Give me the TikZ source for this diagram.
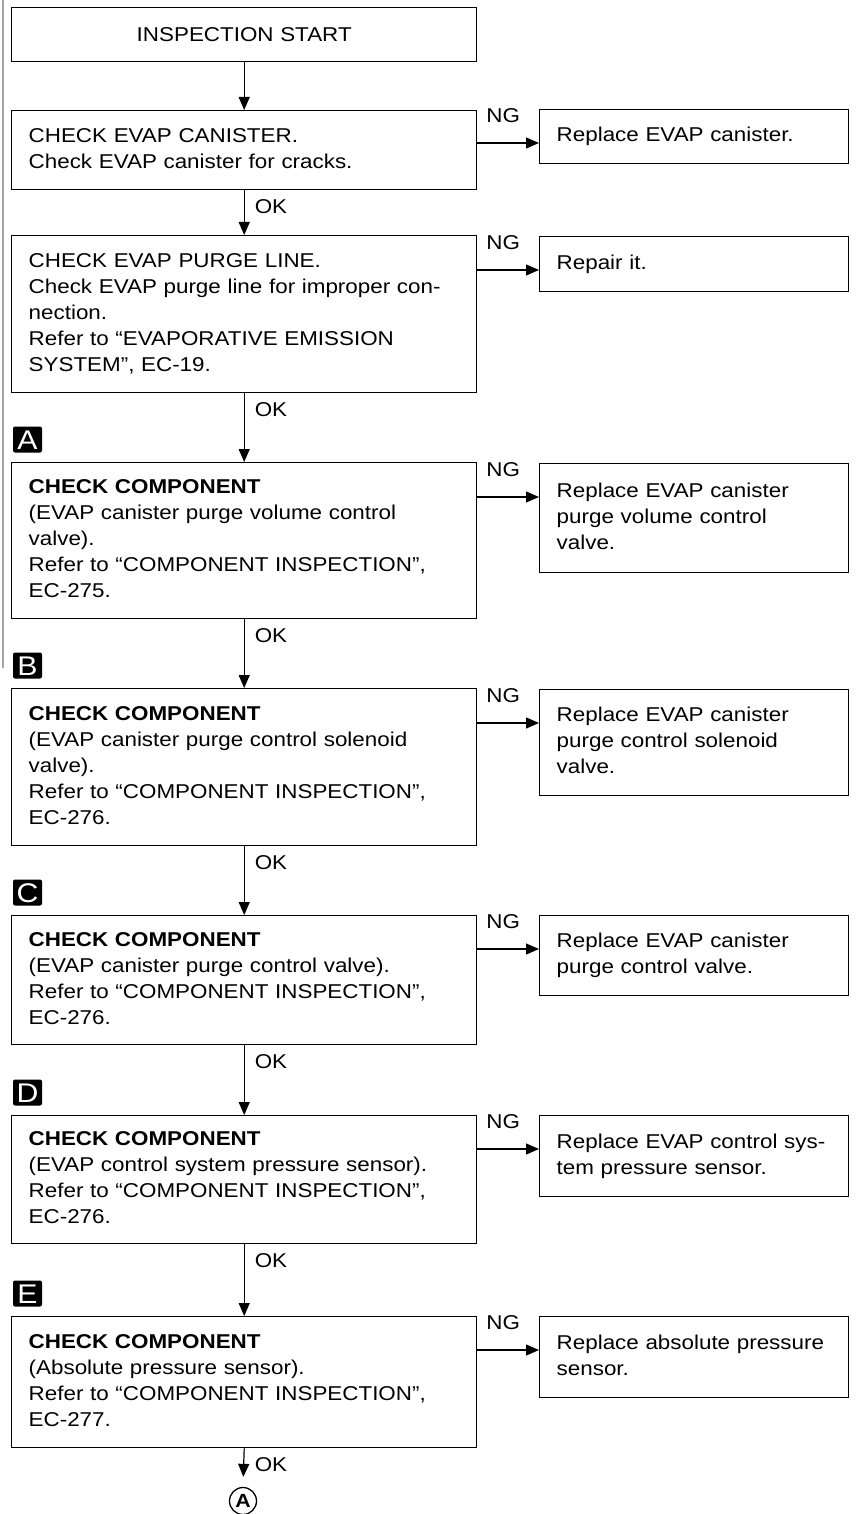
\documentclass[tikz,border=0pt]{standalone}
\usepackage{fontspec}
\setmainfont{Liberation Sans}[FakeStretch=1.12]
\usetikzlibrary{arrows.meta}
\newcommand{\tb}[1]{\begin{tabular}{@{}l@{}}#1\end{tabular}}
\begin{document}
\begin{tikzpicture}[x=1pt,y=-1pt,
  box/.style={draw, line width=1.4pt, anchor=north west, inner xsep=17pt, inner ysep=0pt,
    align=left, font=\fontsize{20}{26}\selectfont},
  lbox/.style={box, text width=431pt, minimum width=465pt},
  rbox/.style={box, text width=275pt, minimum width=309pt},
  arr/.style={line width=1.2pt, -{Triangle[length=13pt,width=11pt]}},
  ng/.style={anchor=south, yshift=20pt, inner sep=0pt, pos=0.42, font=\fontsize{20}{26}\selectfont},
  ok/.style={anchor=north west, xshift=10pt, yshift=-9pt, inner sep=0pt, pos=0, font=\fontsize{20}{26}\selectfont},
  tag/.style={fill=black, text=white, minimum width=29pt, minimum height=26pt, inner sep=0pt,
    rounded corners=2pt, font=\fontsize{27}{27}\selectfont, text height=19.5pt, text depth=0pt},
  circ/.style={circle, draw, line width=1.3pt, minimum size=27pt, inner sep=0pt,
    font=\bfseries\fontsize{19}{19}\selectfont}
]
\useasboundingbox (0,0) rectangle (855,1514);
\draw[gray!70, line width=1.5pt] (3,0) -- (3,668);

% left column
\node[lbox, align=center, minimum height=54pt] (L0) at (11,7) {INSPECTION START};
\node[lbox, minimum height=79pt] (L1) at (11,110) {\tb{CHECK EVAP CANISTER.\\Check EVAP canister for cracks.}};
\node[lbox, minimum height=157pt] (L2) at (11,235) {\tb{CHECK EVAP PURGE LINE.\\Check EVAP purge line for improper con-\\nection.\\Refer to “EVAPORATIVE EMISSION\\SYSTEM”, EC-19.}};
\node[lbox, minimum height=156pt] (LA) at (11,462) {\tb{\textbf{CHECK COMPONENT}\\(EVAP canister purge volume control\\valve).\\Refer to “COMPONENT INSPECTION”,\\EC-275.}};
\node[lbox, minimum height=157pt] (LB) at (11,688) {\tb{\textbf{CHECK COMPONENT}\\(EVAP canister purge control solenoid\\valve).\\Refer to “COMPONENT INSPECTION”,\\EC-276.}};
\node[lbox, minimum height=129pt] (LC) at (11,915) {\tb{\textbf{CHECK COMPONENT}\\(EVAP canister purge control valve).\\Refer to “COMPONENT INSPECTION”,\\EC-276.}};
\node[lbox, minimum height=128pt] (LD) at (11,1115) {\tb{\textbf{CHECK COMPONENT}\\(EVAP control system pressure sensor).\\Refer to “COMPONENT INSPECTION”,\\EC-276.}};
\node[lbox, minimum height=131pt] (LE) at (11,1316) {\tb{\textbf{CHECK COMPONENT}\\(Absolute pressure sensor).\\Refer to “COMPONENT INSPECTION”,\\EC-277.}};

% right column
\node[rbox, minimum height=54pt] (R1) at (539,109) {\tb{Replace EVAP canister.}};
\node[rbox, minimum height=55pt] (R2) at (539,236) {\tb{Repair it.}};
\node[rbox, minimum height=109pt] (R3) at (539,463) {\tb{Replace EVAP canister\\purge volume control\\valve.}};
\node[rbox, minimum height=106pt] (R4) at (539,689) {\tb{Replace EVAP canister\\purge control solenoid\\valve.}};
\node[rbox, minimum height=80pt] (R5) at (539,915) {\tb{Replace EVAP canister\\purge control valve.}};
\node[rbox, minimum height=81pt] (R6) at (539,1115) {\tb{Replace EVAP control sys-\\tem pressure sensor.}};
\node[rbox, minimum height=81pt] (R7) at (539,1316) {\tb{Replace absolute pressure\\sensor.}};

% tags
\node[tag] (tA) at (27.5,439.5) {A};
\node[tag] (tB) at (27.5,665.5) {B};
\node[tag] (tC) at (27.5,892.5) {C};
\node[tag] (tD) at (27.5,1092.5) {D};
\node[tag] (tE) at (27.5,1293.5) {E};

\node[circ] (end) at (243,1501) {A};

% vertical connectors
\draw[arr] (L0.south) -- (L1.north);
\draw[arr] (L1.south) -- (L2.north) node[ok]{OK};
\draw[arr] (L2.south) -- (LA.north) node[ok]{OK};
\draw[arr] (LA.south) -- (LB.north) node[ok]{OK};
\draw[arr] (LB.south) -- (LC.north) node[ok]{OK};
\draw[arr] (LC.south) -- (LD.north) node[ok]{OK};
\draw[arr] (LD.south) -- (LE.north) node[ok]{OK};
\draw[arr, shorten >=10pt] (LE.south) -- (end.north) node[ok]{OK};

% NG connectors
\foreach \l/\r in {L1/R1, L2/R2, LA/R3, LB/R4, LC/R5, LD/R6, LE/R7}{
  \path ([yshift=-34pt]\r.north west) coordinate (g\r);
  \draw[arr] (g\r -| \l.east) -- (g\r) node[ng]{NG};
}
\end{tikzpicture}
\end{document}
